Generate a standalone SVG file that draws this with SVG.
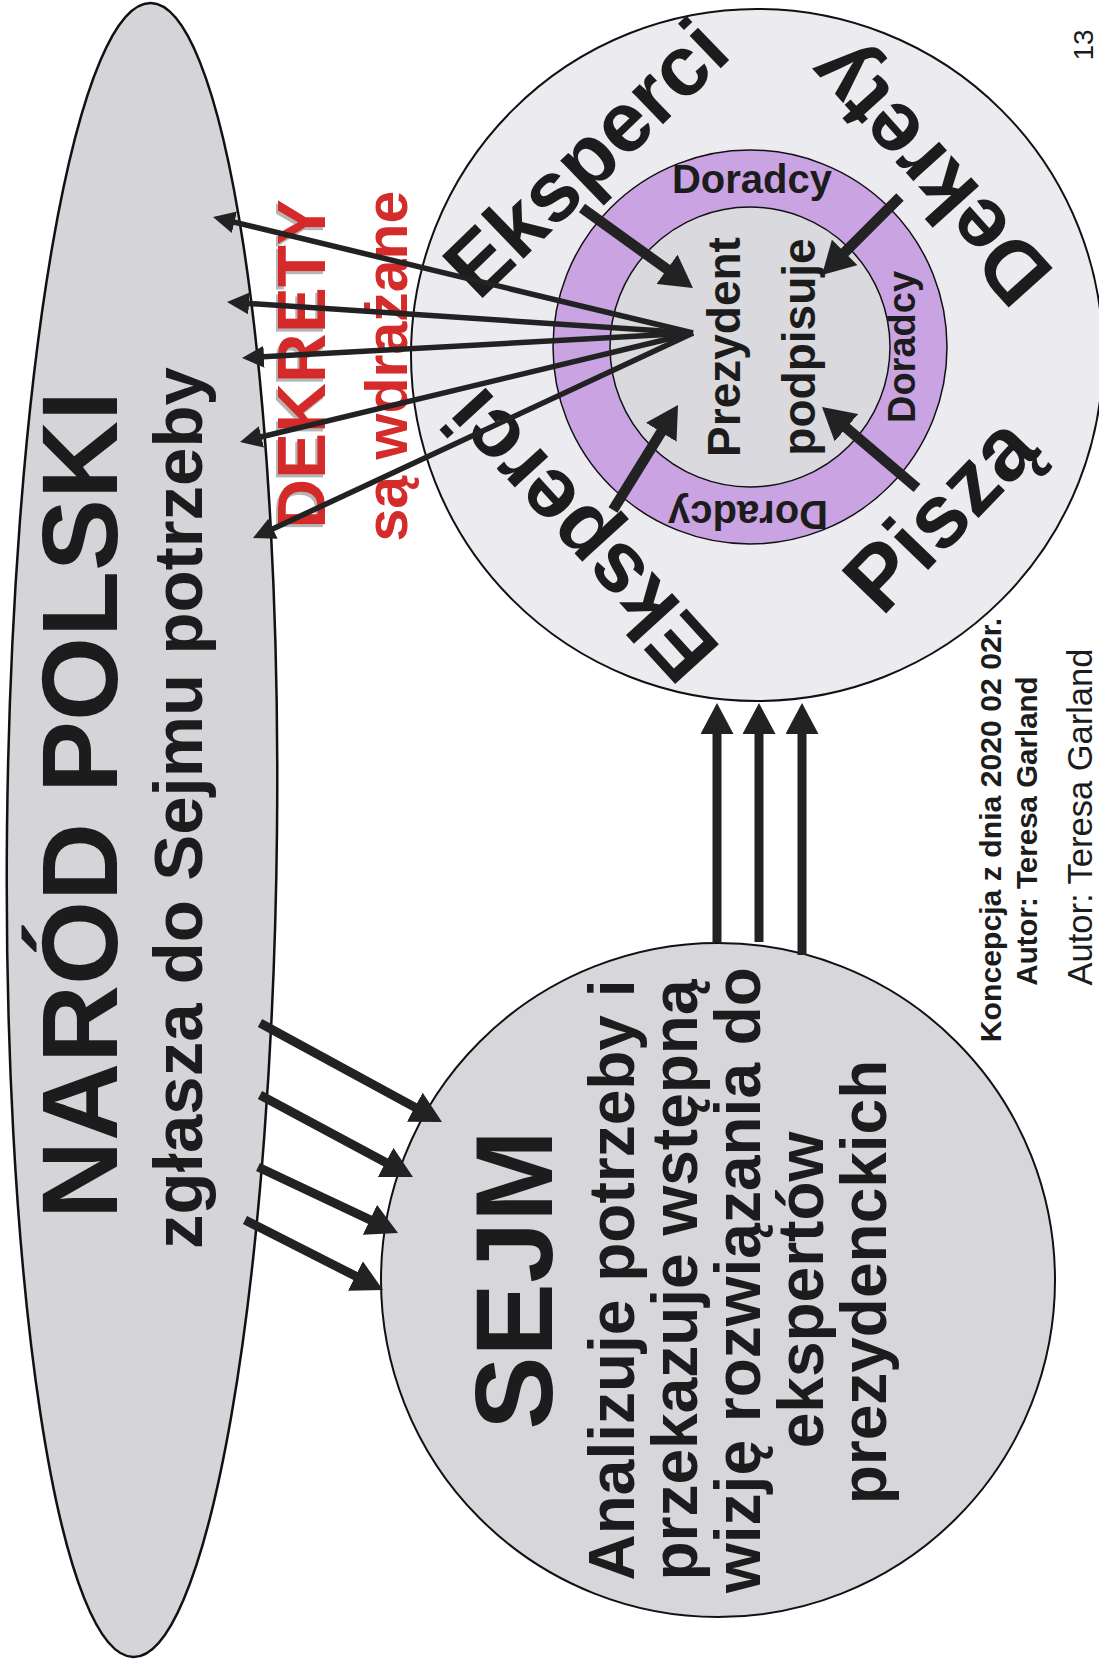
<svg xmlns="http://www.w3.org/2000/svg" width="1099" height="1670" viewBox="0 0 1099 1670">
<defs>
<style>
.t{font-family:"Liberation Sans",Arial,sans-serif;font-weight:bold;fill:#1c1c1c}
.r{font-family:"Liberation Sans",Arial,sans-serif;fill:#1c1c1c}
.red{font-family:"Liberation Sans",Arial,sans-serif;font-weight:bold;fill:#d42b2b}
.ln{stroke:#222;fill:none}
.thin{stroke-width:5.5;marker-end:url(#ahThin)}
.med{stroke-width:9;marker-end:url(#ahMed)}
.thick{stroke-width:10.5;marker-end:url(#ahThick)}
</style>
<marker id="ahThin" markerUnits="userSpaceOnUse" viewBox="0 0 22 22" markerWidth="22" markerHeight="22" refX="11" refY="11" orient="auto"><path d="M0,0 L22,11 L0,22 z" fill="#222"/></marker>
<marker id="ahMed" markerUnits="userSpaceOnUse" viewBox="0 0 31 33" markerWidth="31" markerHeight="33" refX="15.5" refY="16.5" orient="auto"><path d="M0,0 L31,16.5 L0,33 z" fill="#222"/></marker>
<marker id="ahThick" markerUnits="userSpaceOnUse" viewBox="0 0 32 36" markerWidth="32" markerHeight="36" refX="16" refY="18" orient="auto"><path d="M0,0 L32,18 L0,36 z" fill="#222"/></marker>
<filter id="emb" x="-10%" y="-10%" width="120%" height="120%">
<feOffset in="SourceAlpha" dx="-3" dy="-2" result="o"/>
<feFlood flood-color="#b5b5b5"/>
<feComposite in2="o" operator="in" result="s"/>
<feMerge><feMergeNode in="s"/><feMergeNode in="SourceGraphic"/></feMerge>
</filter>
</defs>
<rect width="1099" height="1670" fill="#ffffff"/>

<g id="narod">
<ellipse cx="142" cy="830" rx="135" ry="827" transform="rotate(0.6 142 830)" fill="#d4d4d9" stroke="#111" stroke-width="2.5"/>
<text class="t" x="117" y="805" font-size="108" text-anchor="middle" transform="rotate(-90 117 805)">NARÓD POLSKI</text>
<text class="t" x="202" y="808" font-size="69" text-anchor="middle" transform="rotate(-90 202 808)">zgłasza do Sejmu potrzeby</text>
</g>

<g id="sejm">
<circle cx="718" cy="1280" r="337" fill="#d6d6db" stroke="#111" stroke-width="2"/>
<text class="t" x="552" y="1280" font-size="110" text-anchor="middle" transform="rotate(-90 552 1280)">SEJM</text>
<text class="t" x="634" y="1280" font-size="64" text-anchor="middle" transform="rotate(-90 634 1280)">Analizuje potrzeby i</text>
<text class="t" x="697" y="1280" font-size="64" text-anchor="middle" transform="rotate(-90 697 1280)">przekazuje wstępną</text>
<text class="t" x="760" y="1280" font-size="64" text-anchor="middle" transform="rotate(-90 760 1280)">wizję rozwiązania do</text>
<text class="t" x="823" y="1290" font-size="64" text-anchor="middle" transform="rotate(-90 823 1290)">ekspertów</text>
<text class="t" x="886" y="1282" font-size="64" text-anchor="middle" transform="rotate(-90 886 1282)">prezydenckich</text>
</g>

<g id="prezydent">
<circle cx="757" cy="355" r="346" fill="#ececf0" stroke="#111" stroke-width="2"/>
<circle cx="750" cy="347" r="197" fill="#caa3e3" stroke="#111" stroke-width="1.5"/>
<circle cx="750" cy="347" r="140" fill="#d9d9de" stroke="#111" stroke-width="1.5"/>
<text class="t" x="740" y="347" font-size="46" text-anchor="middle" transform="rotate(-90 740 347)">Prezydent</text>
<text class="t" x="815" y="347" font-size="46" text-anchor="middle" transform="rotate(-90 815 347)">podpisuje</text>
<text class="t" x="752" y="193" font-size="40" text-anchor="middle">Doradcy</text>
<text class="t" x="915" y="347" font-size="38" text-anchor="middle" transform="rotate(-90 915 347)">Doradcy</text>
<text class="t" x="748" y="501" font-size="40" text-anchor="middle" transform="rotate(180 748 501)">Doradcy</text>
<text class="t" x="606" y="179" font-size="85" text-anchor="middle" transform="rotate(-44 606 179)">Eksperci</text>
<text class="t" x="951" y="155" font-size="86" text-anchor="middle" transform="rotate(-132 951 155)">Dekrety</text>
<text class="t" x="602" y="516" font-size="86" text-anchor="middle" transform="rotate(-132.3 602 516)">Eksperci</text>
<text class="t" x="962" y="535" font-size="90" text-anchor="middle" transform="rotate(-46 962 535)">Piszą</text>
</g>

<g id="labels">
<text class="red" x="325" y="364" font-size="69" text-anchor="middle" filter="url(#emb)" transform="rotate(-90 325 364)">DEKRETY</text>
<text class="red" x="407" y="366" font-size="59" text-anchor="middle" transform="rotate(-90 407 366)">są wdrażane</text>
<text class="t" x="1001" y="830" font-size="30.2" text-anchor="middle" transform="rotate(-90 1001 830)">Koncepcja z dnia 2020 02 02r.</text>
<text class="t" x="1037" y="831" font-size="29.5" text-anchor="middle" transform="rotate(-90 1037 831)">Autor: Teresa Garland</text>
<text class="r" x="1092" y="817" font-size="34.5" text-anchor="middle" transform="rotate(-90 1092 817)">Autor: Teresa Garland</text>
<text class="r" x="1093" y="45" font-size="28" text-anchor="middle" transform="rotate(-90 1093 45)">13</text>
</g>

<g id="connectors">
<line class="ln thin" x1="693" y1="333" x2="223.7" y2="219.6"/>
<line class="ln thin" x1="693" y1="333" x2="238" y2="302.7"/>
<line class="ln thin" x1="693" y1="333" x2="253" y2="357.4"/>
<line class="ln thin" x1="693" y1="333" x2="250.7" y2="439.4"/>
<line class="ln thin" x1="693" y1="333" x2="263" y2="533.4"/>
<line class="ln med" x1="260" y1="1023" x2="428.4" y2="1114.6"/>
<line class="ln med" x1="260" y1="1095" x2="399.3" y2="1169.7"/>
<line class="ln med" x1="258" y1="1167" x2="384" y2="1226.4"/>
<line class="ln med" x1="245" y1="1220" x2="369.2" y2="1283"/>
<line class="ln med" x1="717" y1="942" x2="717" y2="718.5"/>
<line class="ln med" x1="759" y1="942" x2="759" y2="718.5"/>
<line class="ln med" x1="802" y1="955" x2="802" y2="718.5"/>
<line class="ln thick" x1="582" y1="208" x2="680" y2="278.6"/>
<line class="ln thick" x1="900" y1="197" x2="833.3" y2="263.7"/>
<line class="ln thick" x1="613" y1="510" x2="669.6" y2="418.6"/>
<line class="ln thick" x1="917" y1="488" x2="834.2" y2="417.4"/>
</g>
</svg>
